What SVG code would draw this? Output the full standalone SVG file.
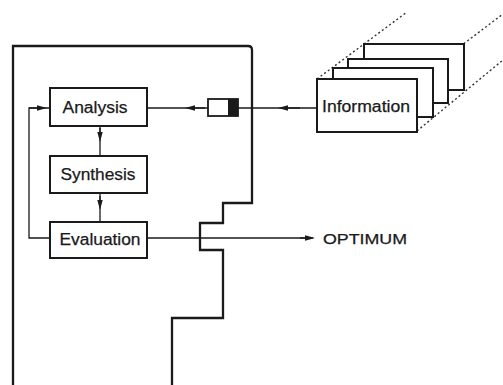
<svg xmlns="http://www.w3.org/2000/svg" width="503" height="385" viewBox="0 0 503 385">
<defs>
<marker id="ah" markerWidth="10" markerHeight="8" refX="5" refY="4" orient="auto" markerUnits="userSpaceOnUse">
<path d="M0,1.3 L10,4 L0,6.7 Z" fill="#1a1a1a"/>
</marker>
</defs>
<style>
.box{fill:#fff;stroke:#1a1a1a;stroke-width:2}
.lbl{font-family:"Liberation Sans",Arial,sans-serif;font-size:16px;fill:#1a1a1a;stroke:#1a1a1a;stroke-width:0.25;text-anchor:middle}
.ln{fill:none;stroke:#1a1a1a;stroke-width:1.3}
.bd{fill:none;stroke:#1a1a1a;stroke-width:2.3}
.dot{fill:none;stroke:#333;stroke-width:1.4;stroke-dasharray:2 2.5}
</style>
<rect width="503" height="385" fill="#fff"/>
<g id="boundary">
<path class="bd" d="M13,385 V46 H248 Q252,46 252,50 V203 H223 V223 H200 V250 H223 V318 H172 V385"/>
</g>
<g id="connectors">
<path class="ln" d="M50,238 H29 V108 H50"/>
<path class="ln" d="M29,108 H42" marker-end="url(#ah)"/>
<path class="ln" d="M100,126 V156"/>
<path class="ln" d="M100,128 V137" marker-end="url(#ah)"/>
<path class="ln" d="M100,193 V222"/>
<path class="ln" d="M100,196 V205" marker-end="url(#ah)"/>
<path class="ln" d="M147,108 H208"/>
<path class="ln" d="M205,108 H190" marker-end="url(#ah)"/>
<path class="ln" d="M238,108 H317"/>
<path class="ln" d="M300,108 H283" marker-end="url(#ah)"/>
<path class="ln" d="M147,238 H313"/>
<path class="ln" d="M300,238 H310" marker-end="url(#ah)"/>
</g>
<g id="valve">
<rect x="208" y="99" width="30" height="17" fill="#fff" stroke="#1a1a1a" stroke-width="1.8"/>
<rect x="228" y="99" width="10" height="17" fill="#1a1a1a"/>
</g>
<g id="analysis">
<rect class="box" x="50" y="88" width="97" height="38"/>
<text class="lbl" x="95" y="113" textLength="65" lengthAdjust="spacingAndGlyphs">Analysis</text>
</g>
<g id="synthesis">
<rect class="box" x="50" y="156" width="97" height="37"/>
<text class="lbl" x="98" y="180" textLength="75" lengthAdjust="spacingAndGlyphs">Synthesis</text>
</g>
<g id="evaluation">
<rect class="box" x="50" y="222" width="97" height="36"/>
<text class="lbl" x="100" y="245" textLength="81" lengthAdjust="spacingAndGlyphs">Evaluation</text>
</g>
<g id="information">
<path class="dot" d="M317,79 L407,12"/>
<path class="dot" d="M417,79 L503,14"/>
<path class="dot" d="M417,131 L503,60"/>
<rect class="box" x="364" y="44" width="100" height="46"/>
<rect class="box" x="348" y="59" width="100" height="44"/>
<rect class="box" x="333" y="68" width="100" height="49"/>
<rect class="box" x="317" y="79" width="100" height="53"/>
<text class="lbl" x="366" y="112" textLength="88" lengthAdjust="spacingAndGlyphs">Information</text>
</g>
<g id="optimum">
<text class="lbl" x="365" y="244" textLength="84" lengthAdjust="spacingAndGlyphs" style="font-size:14px">OPTIMUM</text>
</g>
</svg>
